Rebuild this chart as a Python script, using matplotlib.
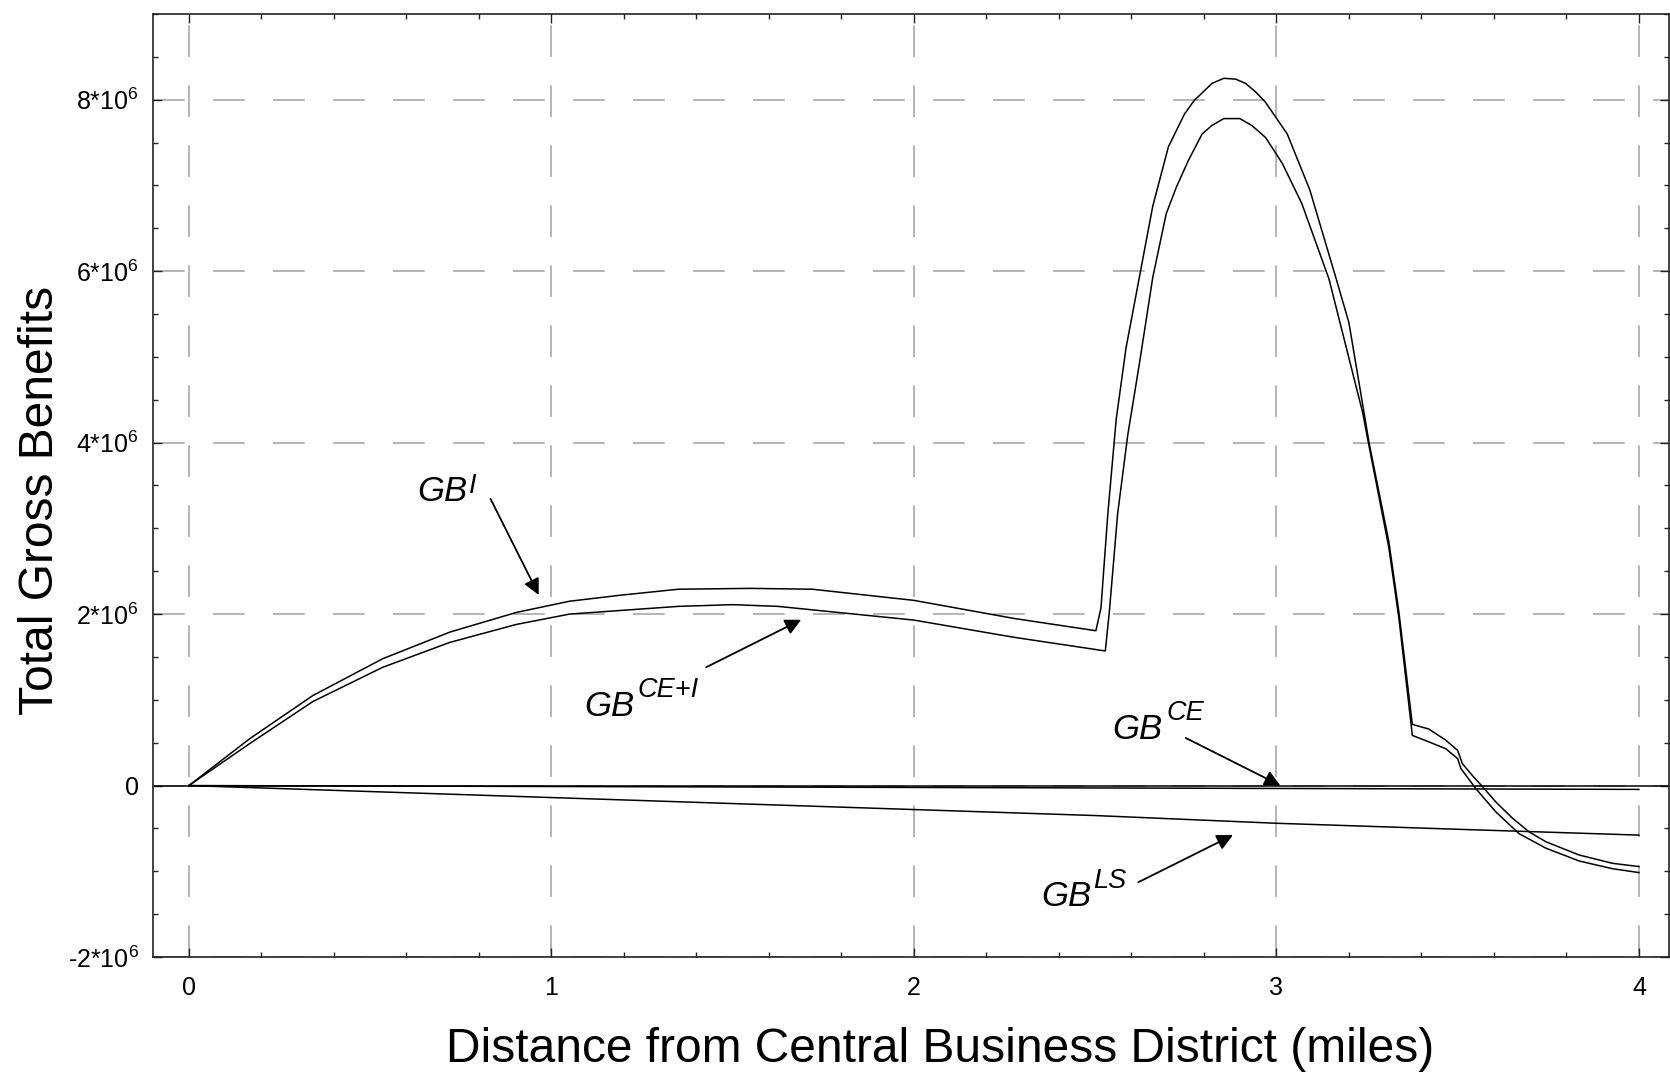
import numpy as np
import matplotlib.pyplot as plt
from matplotlib.ticker import MultipleLocator, FixedLocator, FixedFormatter

plt.rcParams['font.family'] = ['Liberation Sans', 'DejaVu Sans']
plt.rcParams['mathtext.fontset'] = 'custom'
plt.rcParams['mathtext.rm'] = 'Liberation Sans'
plt.rcParams['mathtext.it'] = 'Liberation Sans:italic'

#%% data (benefits in millions)

x_i = [0, 0.168, 0.342, 0.535, 0.72, 0.904, 1.05, 1.19, 1.35, 1.55, 1.72, 2.0, 2.275,
       2.502, 2.516, 2.535, 2.558, 2.585, 2.622, 2.659, 2.702, 2.746, 2.773, 2.80, 2.822,
       2.855, 2.888, 2.915, 2.943, 2.97, 3.03, 3.092, 3.165, 3.20, 3.256, 3.31, 3.338,
       3.375, 3.42, 3.467, 3.50, 3.513, 3.54, 3.569, 3.605, 3.651, 3.697, 3.743, 3.835,
       3.927, 4.0]
gb_i = [0, 0.547, 1.05, 1.48, 1.79, 2.02, 2.15, 2.22, 2.29, 2.30, 2.29, 2.16, 1.95,
        1.806, 2.07, 3.17, 4.27, 5.10, 5.93, 6.76, 7.45, 7.83, 7.99, 8.10, 8.19,
        8.25, 8.24, 8.19, 8.09, 7.97, 7.6, 6.95, 5.91, 5.40, 3.99, 2.85, 2.02,
        0.713, 0.66, 0.53, 0.41, 0.256, 0.12, -0.015, -0.19, -0.38, -0.54, -0.655, -0.81,
        -0.907, -0.945]

x_cei = [0, 0.168, 0.342, 0.535, 0.72, 0.904, 1.05, 1.35, 1.50, 1.625, 2.0, 2.275,
         2.528, 2.539, 2.562, 2.590, 2.622, 2.659, 2.696, 2.724, 2.757, 2.795, 2.822, 2.855,
         2.899, 2.932, 2.97, 3.016, 3.07, 3.145, 3.238, 3.256, 3.31, 3.338, 3.375, 3.42,
         3.467, 3.50, 3.509, 3.55, 3.605, 3.669, 3.743, 3.835, 3.927, 4.0]
gb_cei = [0, 0.49, 0.98, 1.38, 1.67, 1.88, 2.0, 2.09, 2.11, 2.09, 1.93, 1.73,
          1.57, 2.02, 3.17, 4.09, 4.92, 5.93, 6.67, 6.98, 7.29, 7.60, 7.70, 7.78,
          7.78, 7.70, 7.56, 7.26, 6.79, 5.91, 4.35, 3.95, 2.78, 1.95, 0.585, 0.51,
          0.43, 0.314, 0.198, -0.035, -0.306, -0.56, -0.73, -0.88, -0.97, -1.015]

x_ce = [0, 1, 2, 3, 4]
gb_ce = [0, -0.011, -0.022, -0.034, -0.045]

x_ls = [0, 0.5, 1, 1.5, 2, 2.5, 3, 3.5, 4]
gb_ls = [0, -0.07, -0.14, -0.21, -0.28, -0.35, -0.44, -0.51, -0.578]

y_ticks = [-2, 0, 2, 4, 6, 8]
y_ticklabels = ['-2*10$^6$', '0', '2*10$^6$', '4*10$^6$', '6*10$^6$', '8*10$^6$']
x_ticks = [0, 1, 2, 3, 4]

# (superscript, text x, text y, superscript rise in pt, sup x offset, arrow tail, arrow head)
notes = [('I', 0.631, 3.317, 6, 37, (0.832, 3.345), (0.965, 2.224)),
         ('CE+I', 1.092, 0.817, 13.5, 38, (1.427, 1.38), (1.689, 1.934)),
         ('CE', 2.548, 0.538, 13.7, 38.5, (2.75, 0.555), (3.011, 0.0)),
         ('LS', 2.351, -1.407, 13, 37.5, (2.619, -1.128), (2.88, -0.578))]

M = 1e6

#%% figure

fig = plt.figure(figsize=(16.7, 10.74), dpi=100)
ax = fig.add_axes([153 / 1670, 1 - 957 / 1074, 1 - 153 / 1670 - 0.0006, 943 / 1074])

ax.plot(x_i, np.array(gb_i) * M, color='k', lw=1.1)
ax.plot(x_cei, np.array(gb_cei) * M, color='k', lw=1.1)
ax.plot(x_ce, np.array(gb_ce) * M, color='k', lw=1.1)
ax.plot(x_ls, np.array(gb_ls) * M, color='k', lw=1.1)
ax.axhline(0, color='k', lw=1.1)

ax.set_xlim(-0.099, 4.083)
ax.set_ylim(-2 * M, 9.0 * M)

ax.xaxis.set_major_locator(FixedLocator(x_ticks))
ax.xaxis.set_minor_locator(MultipleLocator(0.2))
ax.yaxis.set_major_locator(FixedLocator([v * M for v in y_ticks]))
ax.yaxis.set_major_formatter(FixedFormatter(y_ticklabels))
ax.yaxis.set_minor_locator(MultipleLocator(0.5 * M))

ax.tick_params(which='both', direction='in', top=True, right=True, color='#222222', width=1)
ax.tick_params(which='major', length=6.5, labelsize=18)
ax.tick_params(which='minor', length=3.6)
ax.tick_params(axis='x', pad=14)
ax.tick_params(axis='y', pad=10)

for s in ax.spines.values():
    s.set_linewidth(1.2)
    s.set_color('#222222')

ax.set_axisbelow(True)
ax.grid(True, which='major', color='#a8a8a8', lw=1.2, linestyle=(0, (19, 17)))

# curve labels with arrows
for sup, tx, ty, rise, dx, tail, head in notes:
    ax.text(tx, ty * M, 'GB', fontsize=25, style='italic', ha='left', va='baseline')
    ax.annotate(sup, xy=(tx, ty * M), xytext=(dx, rise), textcoords='offset points',
                fontsize=19.5, style='italic', ha='left', va='baseline')
    ax.annotate('', xy=(head[0], head[1] * M), xytext=(tail[0], tail[1] * M),
                arrowprops=dict(arrowstyle='-|>', color='k', lw=1.3, mutation_scale=24,
                                shrinkA=0, shrinkB=0))

fig.text(940.5 / 1670, 1 - 1062 / 1074, 'Distance from Central Business District (miles)',
         fontsize=34.5, ha='center', va='baseline')
fig.text(53.3 / 1670, 1 - 500 / 1074, 'Total Gross Benefits', fontsize=34.5,
         rotation=90, rotation_mode='anchor', ha='center', va='baseline')

fig.savefig('out.png', dpi=100)
